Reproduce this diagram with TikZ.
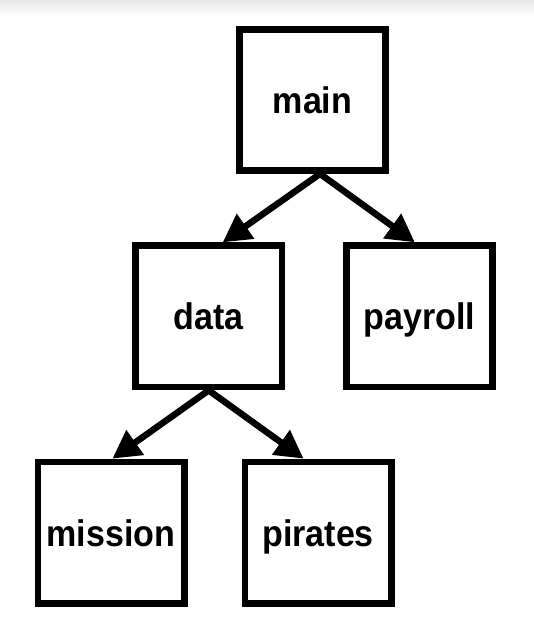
\documentclass[tikz,border=0pt]{standalone}
\usepackage{fontspec}
\newfontfamily\labfont{Liberation Sans}[FakeStretch=0.92]
\usetikzlibrary{arrows.meta,calc}
\begin{document}
\begin{tikzpicture}[x=1pt,y=1pt,
  box/.style={draw=black, line width=6.7pt, fill=white, minimum width=146.3pt, minimum height=141.3pt,
    inner sep=0pt, text height=27pt, text depth=0pt,
    font=\labfont\bfseries\fontsize{37}{44}\selectfont},
  link/.style={draw=black, line width=6.5pt, -{Triangle[length=28pt,width=29pt]}}]
\useasboundingbox (0,0) rectangle (534,640);
\fill[white] (0,0) rectangle (534,640);
\fill[top color=black!9, bottom color=white] (0,624) rectangle (534,640);
\node[box] (main) at (312.5,540.15) {main};
\node[box] (data) at (208.7,323.65) {data};
\node[box] (payroll) at (419.35,323.65) {payroll};
\node[box] (mission) at (111,107.35) {mission};
\node[box] (pirates) at (318.1,107.35) {pirates};
\coordinate (m0) at ($(main.south)+(7.5,0)$);
\coordinate (d0) at (data.south);
\coordinate (dt) at ($(data.north)+(14,0)$);
\coordinate (pt) at ($(payroll.north)+(-4.5,0)$);
\coordinate (mt) at ($(mission.north)+(1.4,0)$);
\coordinate (it) at ($(pirates.north)+(-14.5,0)$);
\draw[link] (m0) -- (dt);
\draw[link] (m0) -- (pt);
\draw[link] (d0) -- (mt);
\draw[link] (d0) -- (it);
\end{tikzpicture}
\end{document}
